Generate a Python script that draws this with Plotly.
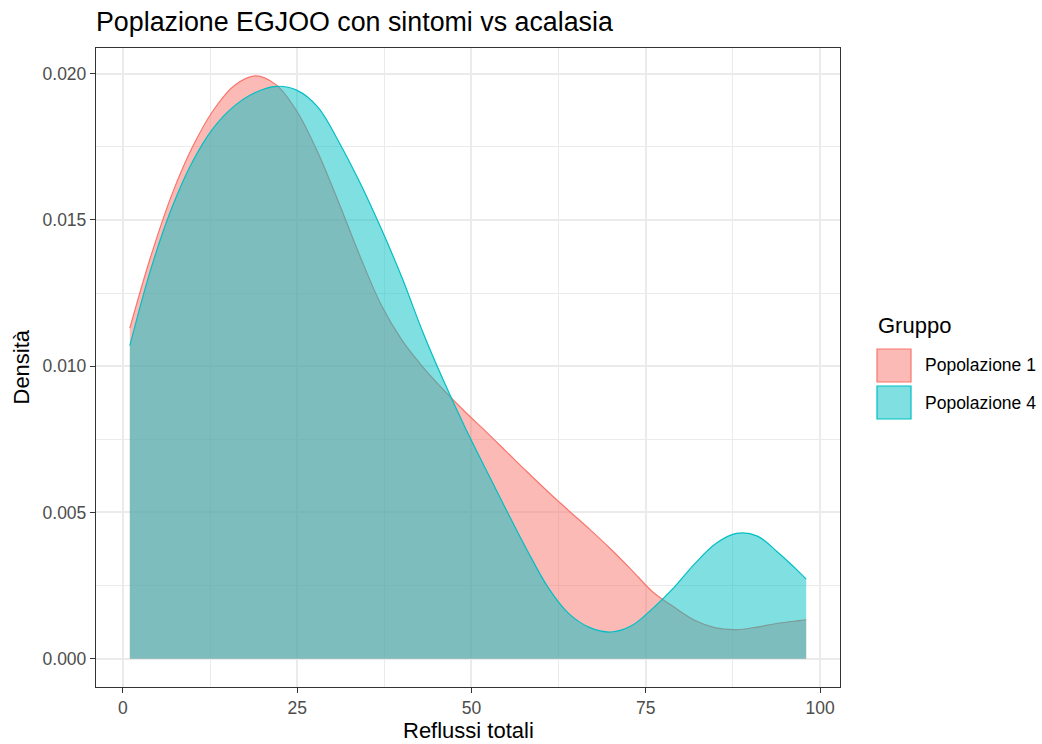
import plotly.graph_objects as go

# ---- data ----
x_grid = [1, 4, 7, 10, 13, 16, 19, 22, 25, 28, 31, 34, 37, 40, 43, 46, 49, 52, 55,
          58, 61, 64, 67, 70, 73, 76, 79, 82, 85, 88, 91, 94, 97, 98]
dens_pop1 = [0.01130, 0.01375, 0.01585, 0.01750, 0.01876, 0.01960, 0.01993, 0.01962,
             0.01870, 0.01729, 0.01557, 0.01377, 0.01212, 0.01090, 0.00998, 0.00919,
             0.00846, 0.00778, 0.00708, 0.00638, 0.00570, 0.00505, 0.00441, 0.00374,
             0.00302, 0.00228, 0.00177, 0.00131, 0.00105, 0.00099, 0.00108, 0.00121,
             0.00130, 0.00133]
dens_pop4 = [0.01070, 0.01331, 0.01540, 0.01700, 0.01815, 0.01890, 0.01936, 0.01957,
             0.01943, 0.01885, 0.01766, 0.01628, 0.01473, 0.01305, 0.01118, 0.00950,
             0.00795, 0.00650, 0.00508, 0.00370, 0.00243, 0.00153, 0.00106, 0.00091,
             0.00113, 0.00172, 0.00242, 0.00324, 0.00393, 0.00428, 0.00419, 0.00362,
             0.00296, 0.00272]
group_names = ["Popolazione 1", "Popolazione 4"]
x_ticks = [0, 25, 50, 75, 100]
y_ticks = [0.0, 0.005, 0.010, 0.015, 0.020]

line_colors = ["#F8766D", "#00BFC4"]
fill_colors = ["rgba(248,118,109,0.5)", "rgba(0,191,196,0.5)"]

FONT = "Liberation Sans, Arial, Helvetica, sans-serif"
W, H = 1042, 744
L, R, T, B = 96, 202, 48, 57
PW, PH = W - L - R, H - T - B

fig = go.Figure()
for name, ys, lc, fc in zip(group_names, [dens_pop1, dens_pop4], line_colors, fill_colors):
    fig.add_trace(go.Scatter(
        x=x_grid, y=ys, name=name, mode="lines",
        line=dict(color=lc, width=1.2, shape="spline", smoothing=1.0),
        fill="tozeroy", fillcolor=fc, showlegend=False,
    ))

axis_common = dict(
    showline=True, mirror=True, linecolor="#333333", linewidth=1.3,
    showgrid=True, gridcolor="#EBEBEB", gridwidth=1.6, zeroline=False,
    ticks="outside", ticklen=5, tickwidth=1.3, tickcolor="#333333",
    tickfont=dict(family=FONT, size=17.5, color="#4D4D4D"),
)

fig.update_xaxes(
    range=[-3.85, 102.85], tickvals=x_ticks, ticktext=[str(v) for v in x_ticks],
    minor=dict(dtick=12.5, tick0=0, showgrid=True, gridcolor="#EBEBEB", gridwidth=0.9, ticks=""),
    **axis_common,
)
fig.update_yaxes(
    range=[-0.00097, 0.02088], tickvals=y_ticks, ticktext=[f"{v:.3f}" for v in y_ticks],
    minor=dict(dtick=0.0025, tick0=0, showgrid=True, gridcolor="#EBEBEB", gridwidth=0.9, ticks=""),
    **axis_common,
)

def px_x(p):
    return (p - L) / PW

def px_y(p):
    return (H - B - p) / PH

annotations = [
    dict(text="Reflussi totali", xref="paper", yref="paper", x=0.5, y=px_y(730),
         xanchor="center", yanchor="middle", showarrow=False,
         font=dict(family=FONT, size=22, color="black")),
    dict(text="Densità", xref="paper", yref="paper", x=px_x(21), y=0.5,
         xanchor="center", yanchor="middle", showarrow=False, textangle=-90,
         font=dict(family=FONT, size=22, color="black")),
    dict(text="Gruppo", xref="paper", yref="paper", x=px_x(876), y=px_y(326),
         xanchor="left", yanchor="middle", showarrow=False,
         font=dict(family=FONT, size=22, color="black")),
]
shapes = []
key_tops = [349, 386]
for name, lc, fc, top in zip(group_names, line_colors, fill_colors, key_tops):
    shapes.append(dict(type="rect", xref="paper", yref="paper",
                       x0=px_x(877), x1=px_x(911), y0=px_y(top + 33), y1=px_y(top),
                       fillcolor=fc, line=dict(color=lc, width=1.2)))
    annotations.append(dict(text=name, xref="paper", yref="paper", x=px_x(923),
                            y=px_y(top + 16.5), xanchor="left", yanchor="middle",
                            showarrow=False,
                            font=dict(family=FONT, size=17.5, color="black")))

fig.update_layout(
    width=W, height=H,
    margin=dict(l=L, r=R, t=T, b=B),
    paper_bgcolor="white", plot_bgcolor="white",
    title=dict(text="Poplazione EGJOO con sintomi vs acalasia", x=96 / W, xanchor="left",
               y=1 - 22 / H, yanchor="middle", xref="container",
               font=dict(family=FONT, size=26.8, color="black")),
    annotations=annotations, shapes=shapes, showlegend=False,
)

fig.write_html("out.html")
